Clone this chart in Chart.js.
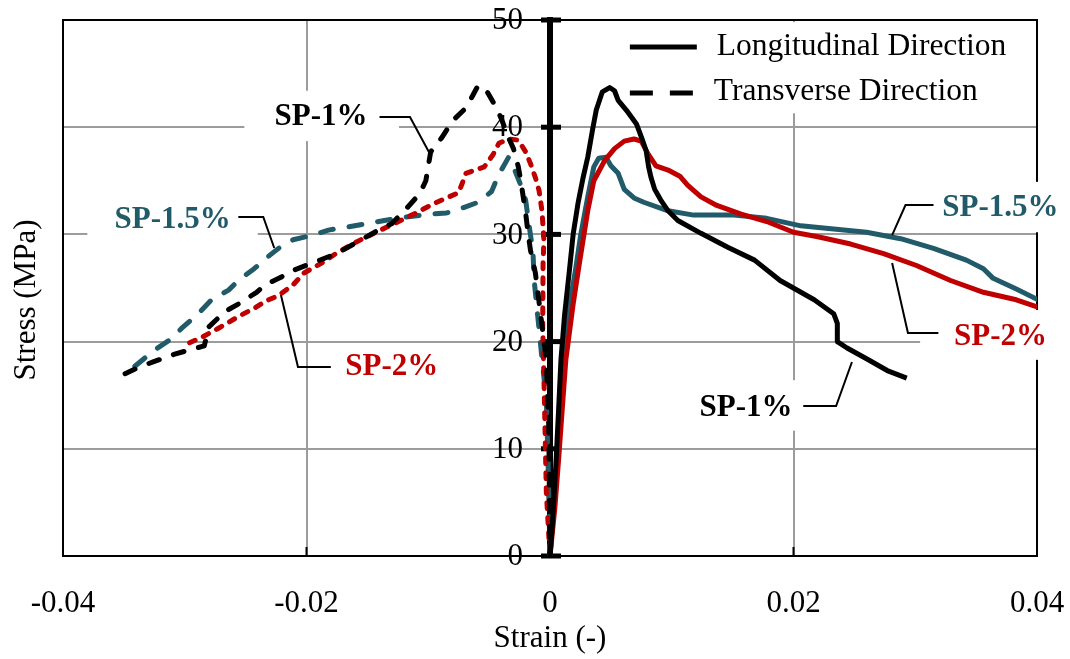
<!DOCTYPE html>
<html>
<head>
<meta charset="utf-8">
<script src="https://cdn.jsdelivr.net/npm/chart.js@4.4.1/dist/chart.umd.min.js"></script>
<style>
  html, body { margin: 0; padding: 0; background: #fff; }
</style>
</head>
<body>
<canvas id="stressStrainChart" width="1070" height="659"></canvas>
<script>
// longitudinal direction (positive strain), solid lines
const longSP1Strain = [0, 0.0002, 0.0005, 0.0007, 0.0009, 0.0012, 0.0016, 0.0019, 0.0023, 0.0027, 0.0031, 0.0035, 0.0038, 0.0043, 0.0049,
  0.0053, 0.0056, 0.0064, 0.0071, 0.0075, 0.0079, 0.0081, 0.0083, 0.0086, 0.0091, 0.0097, 0.0105, 0.0124, 0.0146, 0.0168, 0.0189,
  0.0217, 0.0233, 0.0236, 0.0236, 0.0244, 0.0260, 0.0277, 0.0293];
const longSP1Stress = [0, 3, 8.9, 13.5, 18.3, 22.5, 26.7, 30, 32.9, 35.2, 37.2, 39.8, 41.6, 43.3, 43.7,
  43.4, 42.5, 41.4, 40.3, 39.1, 37.8, 36.3, 35.3, 34.2, 33.2, 32.2, 31.3, 30.1, 28.8, 27.6, 25.7,
  23.9, 22.6, 21.7, 20.0, 19.4, 18.4, 17.3, 16.6];

const longSP15Strain = [0, 0.0006, 0.0012, 0.0017, 0.0021, 0.0025, 0.0031, 0.0036, 0.0040, 0.0046, 0.0050, 0.0056, 0.0061, 0.0069,
  0.0077, 0.0097, 0.0118, 0.0151, 0.0178, 0.0206, 0.0233, 0.0260, 0.0288, 0.0315, 0.0342, 0.0356, 0.0364, 0.0383, 0.0401];
const longSP15Stress = [0, 9, 18.3, 24, 26.7, 29.8, 33.5, 36.3, 37.1, 37.2, 36.4, 35.7, 34.2, 33.4,
  33.0, 32.2, 31.8, 31.8, 31.5, 30.8, 30.5, 30.2, 29.6, 28.7, 27.6, 26.8, 25.9, 24.9, 23.9];

const longSP2Strain = [0, 0.0004, 0.0007, 0.0013, 0.0019, 0.0024, 0.0031, 0.0036, 0.0045, 0.0053, 0.0061, 0.0069, 0.0075, 0.0080,
  0.0087, 0.0097, 0.0107, 0.0113, 0.0124, 0.0137, 0.0157, 0.0178, 0.0200, 0.0219, 0.0247, 0.0274, 0.0301, 0.0329, 0.0356, 0.0383, 0.0401];
const longSP2Stress = [0, 4.5, 8.9, 18.3, 23.5, 27.2, 32.2, 35.0, 36.9, 38.0, 38.7, 38.9, 38.7, 37.6,
  36.4, 36.0, 35.4, 34.6, 33.5, 32.7, 31.9, 31.2, 30.2, 29.8, 29.1, 28.2, 27.1, 25.7, 24.6, 23.9, 23.2];

// transverse direction (negative strain), dashed lines
const transSP1Strain = [-0.0349, -0.0338, -0.0326, -0.0309, -0.0297, -0.0284, -0.0280, -0.0267, -0.0256, -0.0241, -0.0234, -0.0221,
  -0.0214, -0.0196, -0.0180, -0.0169, -0.0155, -0.0141, -0.0130, -0.0118, -0.0107, -0.0102, -0.0098, -0.0089, -0.0080, -0.0069,
  -0.0059, -0.0051, -0.0044, -0.0040, -0.0034, -0.0030, -0.0026, -0.0024, -0.0022, -0.0020, -0.0018, -0.0016, -0.0012, -0.0009,
  -0.0006, -0.0003, -0.0001, 0];
const transSP1Stress = [17.0, 17.6, 18.1, 18.8, 19.2, 19.6, 21.4, 22.8, 23.5, 24.6, 25.3, 26.0,
  26.5, 27.3, 28.0, 28.6, 29.5, 30.4, 31.0, 32.4, 33.8, 35.0, 37.7, 39.0, 40.6, 41.8,
  43.9, 43.2, 41.8, 40.8, 39.0, 38.0, 36.3, 35.0, 33.5, 32.0, 30.1, 28.5, 26.4, 23.7,
  21.0, 18.3, 12.0, 0];

const transSP15Strain = [-0.0341, -0.0325, -0.0313, -0.0302, -0.0289, -0.0278, -0.0264, -0.0256, -0.0243, -0.0233, -0.0223, -0.0211,
  -0.0196, -0.0182, -0.0166, -0.0151, -0.0136, -0.0120, -0.0098, -0.0085, -0.0071, -0.0059, -0.0048, -0.0042, -0.0034, -0.0030,
  -0.0024, -0.0020, -0.0017, -0.0014, -0.0013, -0.0007, -0.0003, -0.00016, 0];
const transSP15Stress = [17.7, 19.2, 20.1, 21.3, 22.6, 23.9, 24.8, 25.7, 26.8, 27.8, 28.7, 29.5,
  29.9, 30.4, 30.7, 31.0, 31.3, 31.6, 31.9, 32.0, 32.5, 33.0, 34.0, 35.6, 37.2, 36.3,
  34.6, 33.2, 30.7, 28.4, 25.7, 18.9, 14.5, 8.9, 0];

const transSP2Strain = [-0.0296, -0.0286, -0.0273, -0.0255, -0.0243, -0.0233, -0.0223, -0.0211, -0.0202, -0.0188, -0.0176, -0.0159,
  -0.0143, -0.0128, -0.0110, -0.0095, -0.0083, -0.0075, -0.0069, -0.0054, -0.0047, -0.0042, -0.0034, -0.0026, -0.0020, -0.0016,
  -0.0012, -0.0009, -0.00066, -0.0005, -0.00057, -0.0006, -0.00047, -0.0003, 0];
const transSP2Stress = [19.9, 20.4, 21.2, 22.4, 23.1, 23.8, 24.3, 25.3, 26.4, 27.3, 28.2, 29.3,
  30.2, 31.0, 32.0, 32.9, 33.5, 33.9, 35.7, 36.3, 37.4, 38.5, 38.9, 38.8, 37.7, 36.6,
  35.3, 34.1, 32.2, 29.5, 27.3, 21.4, 15.2, 5.9, 0];

const strainTicks = [-0.04, -0.02, 0, 0.02, 0.04];
const stressTicks = [0, 10, 20, 30, 40, 50];

const black = '#000000';
const teal = '#215a69';
const red = '#c00000';
const gridGray = '#9c9c9c';
const serif = "'Liberation Serif', 'Times New Roman', serif";

const toPoints = (xs, ys) => xs.map((x, i) => ({ x: x, y: ys[i] }));

function line(xs, ys, color, dash) {
  return {
    data: toPoints(xs, ys),
    borderColor: color,
    borderWidth: 5,
    borderDash: dash || [],
    borderCapStyle: dash ? 'round' : 'butt',
    borderJoinStyle: 'round',
    showLine: true,
    pointRadius: 0,
    tension: 0,
    fill: false
  };
}

// label boxes, texts and leader lines (data coordinates)
const whiteBoxes = [
  [-0.0251, 43.4, -0.0124, 38.7],
  [-0.0380, 33.7, -0.0240, 29.1],
  [0.0108, 16.4, 0.0239, 11.7],
  [0.0304, 34.9, 0.0421, 30.2],
  [0.0304, 22.95, 0.0421, 18.3],
  [0.0052, 49.8, 0.0395, 41.3]
];
const callouts = [
  { text: 'SP-1%', color: black, at: [-0.0188, 40.95], leader: [[-0.0140, 40.95], [-0.0115, 40.95], [-0.0099, 37.6]] },
  { text: 'SP-1.5%', color: teal, at: [-0.0310, 31.34], leader: [[-0.0256, 31.62], [-0.02355, 31.62], [-0.02265, 28.73]] },
  { text: 'SP-2%', color: red, at: [-0.0130, 17.63], leader: [[-0.0180, 17.63], [-0.0207, 17.63], [-0.0221, 24.35]] },
  { text: 'SP-1.5%', color: teal, at: [0.0370, 32.46], leader: [[0.0315, 32.74], [0.0292, 32.74], [0.0281, 29.94]] },
  { text: 'SP-2%', color: red, at: [0.0370, 20.43], leader: [[0.0319, 20.8], [0.0294, 20.8], [0.0281, 27.33]] },
  { text: 'SP-1%', color: black, at: [0.0161, 13.81], leader: [[0.0208, 13.99], [0.0235, 13.99], [0.0248, 18.1]] }
];

const decorations = {
  id: 'decorations',
  beforeDatasetsDraw(chart) {
    const { ctx, chartArea: a, scales: { x, y } } = chart;
    ctx.save();
    ctx.strokeStyle = black;
    ctx.lineWidth = 2;
    ctx.strokeRect(a.left, a.top, a.right - a.left, a.bottom - a.top);

    ctx.fillStyle = '#ffffff';
    whiteBoxes.forEach(b => {
      const x1 = x.getPixelForValue(b[0]), x2 = x.getPixelForValue(b[2]);
      const y1 = y.getPixelForValue(b[1]), y2 = y.getPixelForValue(b[3]);
      ctx.fillRect(x1, y1, x2 - x1, y2 - y1);
    });

    // small inner ticks on the strain axis
    ctx.strokeStyle = black;
    ctx.lineWidth = 2;
    [-0.02, 0.02].forEach(v => {
      const px = x.getPixelForValue(v);
      ctx.beginPath();
      ctx.moveTo(px, a.bottom - 9);
      ctx.lineTo(px, a.bottom);
      ctx.stroke();
    });

    // tick marks crossing the stress axis, and its labels
    const x0 = x.getPixelForValue(0);
    ctx.lineWidth = 5;
    ctx.fillStyle = black;
    ctx.font = '31px ' + serif;
    ctx.textAlign = 'right';
    ctx.textBaseline = 'middle';
    y.ticks.forEach(t => {
      const py = y.getPixelForValue(t.value);
      ctx.beginPath();
      ctx.moveTo(x0 - 9, py);
      ctx.lineTo(x0 + 11, py);
      ctx.stroke();
      ctx.fillText(String(t.value), x0 - 27, py + 1);
    });
    ctx.restore();
  },
  afterDatasetsDraw(chart) {
    const { ctx, chartArea: a, scales: { x, y } } = chart;
    ctx.save();

    ctx.strokeStyle = black;
    ctx.lineWidth = 2;
    callouts.forEach(c => {
      ctx.beginPath();
      c.leader.forEach((p, i) => {
        const px = x.getPixelForValue(p[0]), py = y.getPixelForValue(p[1]);
        if (i === 0) ctx.moveTo(px, py); else ctx.lineTo(px, py);
      });
      ctx.stroke();
    });

    ctx.font = 'bold 31px ' + serif;
    ctx.textAlign = 'center';
    ctx.textBaseline = 'middle';
    callouts.forEach(c => {
      ctx.fillStyle = c.color;
      ctx.fillText(c.text, x.getPixelForValue(c.at[0]), y.getPixelForValue(c.at[1]));
    });

    // legend
    const lx1 = x.getPixelForValue(0.00656), lx2 = x.getPixelForValue(0.01206);
    const ly1 = y.getPixelForValue(47.48), ly2 = y.getPixelForValue(43.19);
    ctx.lineWidth = 5;
    ctx.strokeStyle = black;
    ctx.beginPath();
    ctx.moveTo(lx1, ly1);
    ctx.lineTo(lx2, ly1);
    ctx.stroke();
    ctx.setLineDash([23, 17]);
    ctx.beginPath();
    ctx.moveTo(lx1, ly2);
    ctx.lineTo(lx2, ly2);
    ctx.stroke();
    ctx.setLineDash([]);
    ctx.font = '31.5px ' + serif;
    ctx.fillStyle = black;
    ctx.textAlign = 'left';
    const tx = x.getPixelForValue(0.0137);
    ctx.fillText('Longitudinal Direction', tx, ly1);
    ctx.fillText('Transverse Direction', tx - 3, ly2 - 1);

    // stress axis title
    ctx.font = '31px ' + serif;
    ctx.translate(a.left - 36, (a.top + a.bottom) / 2 + 12);
    ctx.rotate(-Math.PI / 2);
    ctx.textAlign = 'center';
    ctx.fillText('Stress (MPa)', 0, 0);
    ctx.restore();
  }
};

const ctx = document.getElementById('stressStrainChart').getContext('2d');
const stressStrainChart = new Chart(ctx, {
  type: 'scatter',
  data: {
    datasets: [
      line(longSP1Strain, longSP1Stress, black),
      line(transSP1Strain, transSP1Stress, black, [11, 15]),
      line(longSP2Strain, longSP2Stress, red),
      line(transSP2Strain, transSP2Stress, red, [6, 9]),
      line(longSP15Strain, longSP15Stress, teal),
      line(transSP15Strain, transSP15Stress, teal, [13, 16])
    ]
  },
  options: {
    responsive: false,
    devicePixelRatio: 1,
    animation: false,
    layout: { padding: { left: 63, top: 20, right: 33, bottom: 5 } },
    plugins: {
      legend: { display: false },
      tooltip: { enabled: false }
    },
    scales: {
      x: {
        type: 'linear',
        min: -0.04,
        max: 0.04,
        afterBuildTicks: scale => { scale.ticks = strainTicks.map(v => ({ value: v })); },
        afterFit: scale => { scale.paddingLeft = 0; scale.paddingRight = 0; scale.height = 98; },
        ticks: {
          color: black,
          font: { family: serif, size: 31 },
          padding: 29,
          maxRotation: 0,
          callback: v => (Math.abs(v) < 1e-9 ? '0' : String(+v.toFixed(2)))
        },
        grid: {
          color: c => (c.tick && Math.abs(Math.abs(c.tick.value) - 0.02) < 1e-9 ? gridGray : 'rgba(0,0,0,0)'),
          lineWidth: 2,
          drawTicks: false
        },
        border: { display: false },
        title: {
          display: true,
          text: 'Strain (-)',
          color: black,
          font: { family: serif, size: 31, lineHeight: 1 },
          padding: { top: 0, bottom: 0 }
        }
      },
      y: {
        type: 'linear',
        min: 0,
        max: 50,
        position: { x: 0 },
        afterBuildTicks: scale => { scale.ticks = stressTicks.map(v => ({ value: v })); },
        afterFit: scale => { scale.paddingTop = 0; scale.paddingBottom = 0; },
        ticks: { display: false },
        grid: {
          color: gridGray,
          lineWidth: 2,
          drawTicks: false
        },
        border: { display: true, color: black, width: 6 }
      }
    }
  },
  plugins: [decorations]
});
</script>
</body>
</html>
